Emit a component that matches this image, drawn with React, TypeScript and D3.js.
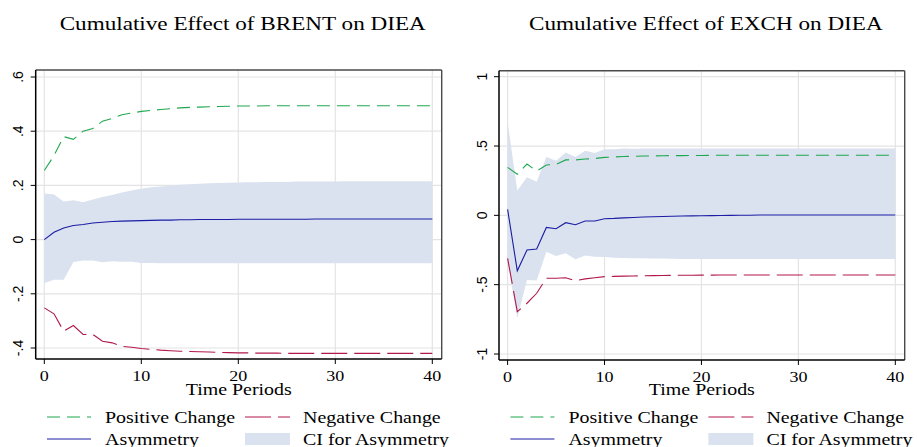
import React from "react";
import { scaleLinear, line, area } from "d3";

// cumulative multipliers, periods 0..40
const brentPositive = [
  0.255, 0.31, 0.38, 0.37, 0.4, 0.41, 0.437, 0.447, 0.461, 0.467, 0.473,
  0.477, 0.48, 0.483, 0.486, 0.488, 0.489, 0.49, 0.491, 0.492, 0.493,
  0.493, 0.493, 0.494, 0.494, 0.494, 0.494, 0.494, 0.494, 0.494, 0.494,
  0.494, 0.494, 0.494, 0.494, 0.494, 0.494, 0.494, 0.494, 0.494, 0.494,
];
const brentNegative = [
  -0.252, -0.274, -0.338, -0.317, -0.35, -0.35, -0.375, -0.381, -0.394, -0.397, -0.402,
  -0.405, -0.408, -0.41, -0.412, -0.413, -0.414, -0.415, -0.416, -0.417, -0.418,
  -0.418, -0.419, -0.419, -0.419, -0.42, -0.42, -0.42, -0.42, -0.42, -0.42,
  -0.42, -0.42, -0.42, -0.42, -0.42, -0.42, -0.42, -0.42, -0.42, -0.42,
];
const brentAsymmetry = [
  0, 0.027, 0.043, 0.052, 0.056, 0.061, 0.064, 0.067, 0.068, 0.069, 0.07,
  0.071, 0.072, 0.072, 0.073, 0.073, 0.074, 0.074, 0.074, 0.074, 0.075,
  0.075, 0.075, 0.075, 0.075, 0.075, 0.075, 0.075, 0.076, 0.076, 0.076,
  0.076, 0.076, 0.076, 0.076, 0.076, 0.076, 0.076, 0.076, 0.076, 0.076,
];
const brentCiUpper = [
  0.17, 0.166, 0.141, 0.145, 0.138, 0.148, 0.157, 0.165, 0.174, 0.181, 0.188,
  0.193, 0.196, 0.199, 0.202, 0.204, 0.206, 0.208, 0.209, 0.21, 0.211,
  0.212, 0.212, 0.213, 0.213, 0.213, 0.214, 0.214, 0.214, 0.214, 0.214,
  0.215, 0.215, 0.215, 0.215, 0.215, 0.215, 0.215, 0.215, 0.215, 0.215,
];
const brentCiLower = [
  -0.16, -0.148, -0.148, -0.083, -0.077, -0.077, -0.084, -0.08, -0.082, -0.082, -0.086,
  -0.086, -0.087, -0.087, -0.087, -0.087, -0.087, -0.087, -0.087, -0.087, -0.087,
  -0.087, -0.087, -0.087, -0.087, -0.087, -0.087, -0.087, -0.087, -0.087, -0.087,
  -0.087, -0.087, -0.087, -0.087, -0.087, -0.087, -0.087, -0.087, -0.087, -0.087,
];

const exchPositive = [
  0.346, 0.296, 0.37, 0.32, 0.363, 0.368, 0.4, 0.4, 0.406, 0.41, 0.418,
  0.421, 0.424, 0.426, 0.428, 0.429, 0.43, 0.431, 0.431, 0.432, 0.432,
  0.433, 0.433, 0.433, 0.433, 0.433, 0.433, 0.433, 0.433, 0.433, 0.433,
  0.433, 0.433, 0.433, 0.433, 0.433, 0.433, 0.433, 0.433, 0.433, 0.433,
];
const exchNegative = [
  -0.31, -0.695, -0.634, -0.562, -0.454, -0.454, -0.45, -0.471, -0.458, -0.45, -0.442,
  -0.44, -0.438, -0.437, -0.436, -0.435, -0.434, -0.433, -0.432, -0.432, -0.431,
  -0.431, -0.43, -0.43, -0.43, -0.43, -0.43, -0.43, -0.43, -0.43, -0.43,
  -0.43, -0.43, -0.43, -0.43, -0.43, -0.43, -0.43, -0.43, -0.43, -0.43,
];
const exchAsymmetry = [
  0.043, -0.4, -0.25, -0.243, -0.087, -0.097, -0.053, -0.068, -0.041, -0.041, -0.024,
  -0.022, -0.018, -0.015, -0.012, -0.01, -0.008, -0.006, -0.005, -0.004, -0.003,
  -0.002, -0.001, 0, 0.001, 0.001, 0.002, 0.002, 0.002, 0.003, 0.003,
  0.003, 0.003, 0.003, 0.003, 0.003, 0.003, 0.003, 0.003, 0.003, 0.003,
];
const exchCiUpper = [
  0.675, 0.18, 0.274, 0.242, 0.42, 0.394, 0.454, 0.42, 0.466, 0.45, 0.476,
  0.476, 0.482, 0.481, 0.483, 0.483, 0.483, 0.483, 0.483, 0.483, 0.483,
  0.483, 0.483, 0.483, 0.483, 0.483, 0.483, 0.483, 0.483, 0.483, 0.483,
  0.483, 0.483, 0.483, 0.483, 0.483, 0.483, 0.483, 0.483, 0.483, 0.483,
];
const exchCiLower = [
  -0.33, -0.74, -0.466, -0.47, -0.262, -0.293, -0.274, -0.317, -0.29, -0.298, -0.3,
  -0.305, -0.307, -0.309, -0.31, -0.311, -0.312, -0.313, -0.314, -0.314, -0.315,
  -0.315, -0.315, -0.315, -0.315, -0.315, -0.315, -0.315, -0.315, -0.315, -0.315,
  -0.315, -0.315, -0.315, -0.315, -0.315, -0.315, -0.315, -0.315, -0.315, -0.315,
];

const xTicks = [0, 10, 20, 30, 40];
const brentYTicks = [-0.4, -0.2, 0, 0.2, 0.4, 0.6];
const brentYLabels = ["-.4", "-.2", "0", ".2", ".4", ".6"];
const exchYTicks = [-1, -0.5, 0, 0.5, 1];
const exchYLabels = ["-1", "-.5", "0", ".5", "1"];

const SERIF = "'Liberation Serif', 'Times New Roman', serif";
const SANS = "'Liberation Sans', Arial, sans-serif";
const SX = 1.2; // the original export is stretched horizontally

const GREEN = "#1fa84f";
const RED = "#b3184c";
const BLUE = "#1c1ca4";
const BAND = "#d9e2ee";
const GRID = "#e4e4e4";

const SText = ({ x, y, size, anchor = "start", children }) => (
  <text
    transform={`translate(${x},${y}) scale(${SX},1)`}
    fontSize={size}
    fontFamily={SERIF}
    textAnchor={anchor}
    fill="#000"
  >
    {children}
  </text>
);

const Panel = ({ dx, title, yDomain, yRange, yTicks, yLabels, frame, pos, neg, asym, lo, hi }) => {
  const x = scaleLinear().domain([0, 40]).range([frame.x0 + 8.6, frame.x1 - 9.4]);
  const y = scaleLinear().domain(yDomain).range(yRange);

  const path = line<number>()
    .x((d, i) => x(i))
    .y((d) => y(d));
  const band = area<number>()
    .x((d, i) => x(i))
    .y0((d, i) => y(lo[i]))
    .y1((d) => y(d));

  const midX = (frame.x0 + frame.x1) / 2;

  return (
    <g>
      <SText x={midX + 4} y={30} size={19.3} anchor="middle">
        {title}
      </SText>

      {yTicks.map((t) => (
        <line key={"gy" + t} x1={frame.x0} x2={frame.x1} y1={y(t)} y2={y(t)} stroke={GRID} strokeWidth={1.2} />
      ))}
      {xTicks.map((t) => (
        <line key={"gx" + t} x1={x(t)} x2={x(t)} y1={frame.y0} y2={frame.y1} stroke={GRID} strokeWidth={1.2} />
      ))}

      <path d={band(hi) || ""} fill={BAND} />
      <path d={path(pos) || ""} fill="none" stroke={GREEN} strokeWidth={1.1} strokeDasharray="13,7" />
      <path d={path(neg) || ""} fill="none" stroke={RED} strokeWidth={1.1} strokeDasharray="26,7" />
      <path d={path(asym) || ""} fill="none" stroke={BLUE} strokeWidth={1.1} />

      <line x1={frame.x0} x2={frame.x1} y1={frame.y0} y2={frame.y0} stroke="#4a4a4a" strokeWidth={1.4} />
      <line x1={frame.x1} x2={frame.x1} y1={frame.y0} y2={frame.y1} stroke="#4a4a4a" strokeWidth={1.4} />
      <line x1={frame.x0} x2={frame.x0} y1={frame.y0} y2={frame.y1} stroke="#000" strokeWidth={1.5} />
      <line x1={frame.x0} x2={frame.x1} y1={frame.y1} y2={frame.y1} stroke="#000" strokeWidth={1.5} />

      {yTicks.map((t, i) => (
        <g key={"ty" + t}>
          <line x1={frame.x0 - 5} x2={frame.x0} y1={y(t)} y2={y(t)} stroke="#000" strokeWidth={1} />
          <text
            transform={`translate(${frame.x0 - 12.5},${y(t)}) rotate(-90)`}
            fontSize={14}
            fontFamily={SANS}
            textAnchor="middle"
            fill="#000"
          >
            {yLabels[i]}
          </text>
        </g>
      ))}
      {xTicks.map((t) => (
        <g key={"tx" + t}>
          <line x1={x(t)} x2={x(t)} y1={frame.y1} y2={frame.y1 + 5} stroke="#000" strokeWidth={1} />
          <SText x={x(t)} y={frame.y1 + 22} size={15} anchor="middle">
            {t}
          </SText>
        </g>
      ))}
      <SText x={midX} y={394.5} size={16.6} anchor="middle">
        Time Periods
      </SText>

      {/* legend */}
      <line x1={dx + 47} x2={dx + 91} y1={417} y2={417} stroke={GREEN} strokeWidth={1.1} strokeDasharray="13,7" />
      <SText x={dx + 105} y={422.5} size={16.6}>Positive Change</SText>
      <line x1={dx + 245} x2={dx + 290} y1={417} y2={417} stroke={RED} strokeWidth={1.1} strokeDasharray="26,7" />
      <SText x={dx + 303} y={422.5} size={16.6}>Negative Change</SText>
      <line x1={dx + 47} x2={dx + 91} y1={439} y2={439} stroke={BLUE} strokeWidth={1.1} />
      <SText x={dx + 105} y={445} size={16.6}>Asymmetry</SText>
      <rect x={dx + 245} y={433} width={45} height={12} fill={BAND} />
      <SText x={dx + 303} y={445} size={16.6}>CI for Asymmetry</SText>
    </g>
  );
};

export default function App() {
  return (
    <svg
      width={917}
      height={447}
      style={{ position: "absolute", left: 0, top: 0, background: "#fff" }}
    >
      <rect width={917} height={447} fill="#fff" />
      <Panel
        dx={0}
        title="Cumulative Effect of BRENT on DIEA"
        yDomain={[-0.4, 0.6]}
        yRange={[348, 77]}
        yTicks={brentYTicks}
        yLabels={brentYLabels}
        frame={{ x0: 35.7, x1: 441.7, y0: 70, y1: 359 }}
        pos={brentPositive}
        neg={brentNegative}
        asym={brentAsymmetry}
        lo={brentCiLower}
        hi={brentCiUpper}
      />
      <Panel
        dx={463.4}
        title="Cumulative Effect of EXCH on DIEA"
        yDomain={[-1, 1]}
        yRange={[354, 76.7]}
        yTicks={exchYTicks}
        yLabels={exchYLabels}
        frame={{ x0: 499, x1: 904.7, y0: 70.7, y1: 360 }}
        pos={exchPositive}
        neg={exchNegative}
        asym={exchAsymmetry}
        lo={exchCiLower}
        hi={exchCiUpper}
      />
    </svg>
  );
}
